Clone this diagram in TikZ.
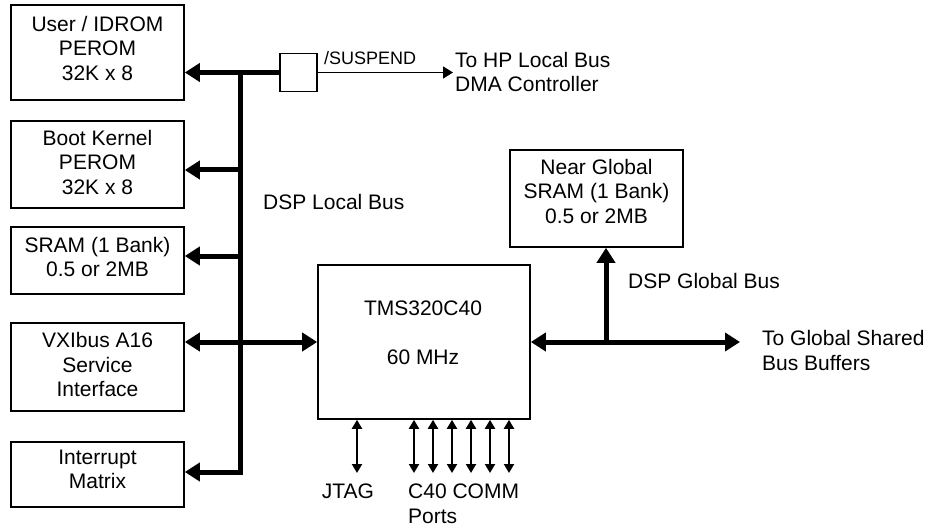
\documentclass[tikz,border=0pt]{standalone}
\usepackage{fontspec}
\setmainfont{Liberation Sans}
\usetikzlibrary{arrows.meta}
\newcommand{\lowpad}[1]{\rule[-#1]{0pt}{0pt}}
\begin{document}
\begin{tikzpicture}[x=1pt,y=-1pt,
  font=\fontsize{21}{24.5}\selectfont,
  box/.style={draw, line width=1.6pt, align=center, inner sep=0pt},
  lbl/.style={inner sep=0pt},
  bus/.style={line width=5pt, line join=miter},
  bigtip/.tip={Triangle[length=15pt,width=18pt]},
  smalltip/.tip={Triangle[length=9pt,width=10pt]},
  midtip/.tip={Triangle[length=10pt,width=12pt]},
  thinline/.style={line width=1.5pt},
  port/.style={line width=2pt, smalltip-smalltip},
]
\useasboundingbox (0,0) rectangle (933,529);

% boxes
\node[box, minimum width=173pt, minimum height=95pt] (b1) at (97.5,52.5) {User / IDROM\\PEROM\\32K x 8\lowpad{9pt}};
\node[box, minimum width=173pt, minimum height=87pt] (b2) at (97.5,164.5) {Boot Kernel\\PEROM\\32K x 8\lowpad{5pt}};
\node[box, minimum width=173pt, minimum height=67pt] (b3) at (97.5,260.5) {SRAM (1 Bank)\\0.5 or 2MB\lowpad{7pt}};
\node[box, minimum width=173pt, minimum height=88pt] (b4) at (97.5,367) {VXIbus A16\\Service\\Interface\lowpad{5pt}};
\node[box, minimum width=173pt, minimum height=65pt] (b5) at (97.5,474.5) {Interrupt\\Matrix\lowpad{10pt}};
\node[box, minimum width=37pt, minimum height=38pt] (sw) at (298.5,72.5) {};
\node[box, minimum width=212pt, minimum height=154pt] (tms) at (424,342) {};
\node[box, minimum width=173pt, minimum height=97pt] (ng) at (596.5,198.5) {Near Global\\SRAM (1 Bank)\\0.5 or 2MB\lowpad{15pt}};

% bus coordinates
\coordinate (j1) at (240,72.5);
\coordinate (j2) at (240,170);
\coordinate (j3) at (240,256);
\coordinate (j4) at (240,342);
\coordinate (j5) at (240,472);
\coordinate (g) at (606,342);
\coordinate (gend) at (740,342);
\coordinate (dma) at (453,72.5);

% local bus
\draw[bus,-bigtip] (sw.west) -- (j1) -- (j5) -- (b5.east |- j5);
\draw[bus,-bigtip] (j1) -- (b1.east |- j1);
\draw[bus,-bigtip] (j2) -- (b2.east |- j2);
\draw[bus,-bigtip] (j3) -- (b3.east |- j3);
\draw[bus,bigtip-bigtip] (b4.east |- j4) -- (tms.west);

% global bus
\draw[bus,bigtip-bigtip] (tms.east) -- (gend);
\draw[bus,-bigtip] (g) -- (ng.south -| g);

% suspend line
\draw[thinline,-midtip] (sw.east) -- (dma);

% ports
\foreach \x [count=\i] in {357,414,433,452,471,490,509} {
  \coordinate (p\i) at (\x,473);
  \draw[port] (tms.south -| p\i) -- (p\i);
}

% labels
\node[lbl, anchor=base west, font=\fontsize{18}{21}\selectfont] (susp) at (324,65) {/SUSPEND};
\node[lbl, anchor=base west, align=left] (hp) at (455,92) {To HP Local Bus\\DMA Controller};
\node[lbl, anchor=base west] (lbus) at (263,210) {DSP Local Bus};
\node[lbl, anchor=base west] (gbus) at (628,288) {DSP Global Bus};
\node[lbl, anchor=base west, align=left] (gsb) at (762,370) {To Global Shared\\Bus Buffers};
\node[lbl, anchor=base] (tmsn) at (423,315) {TMS320C40};
\node[lbl, anchor=base] (mhz) at (423,364) {60 MHz};
\node[lbl, anchor=base] (jtag) at (348,498) {JTAG};
\node[lbl, anchor=base west, align=left] (comm) at (408,523) {C40 COMM\\Ports};
\end{tikzpicture}
\end{document}
